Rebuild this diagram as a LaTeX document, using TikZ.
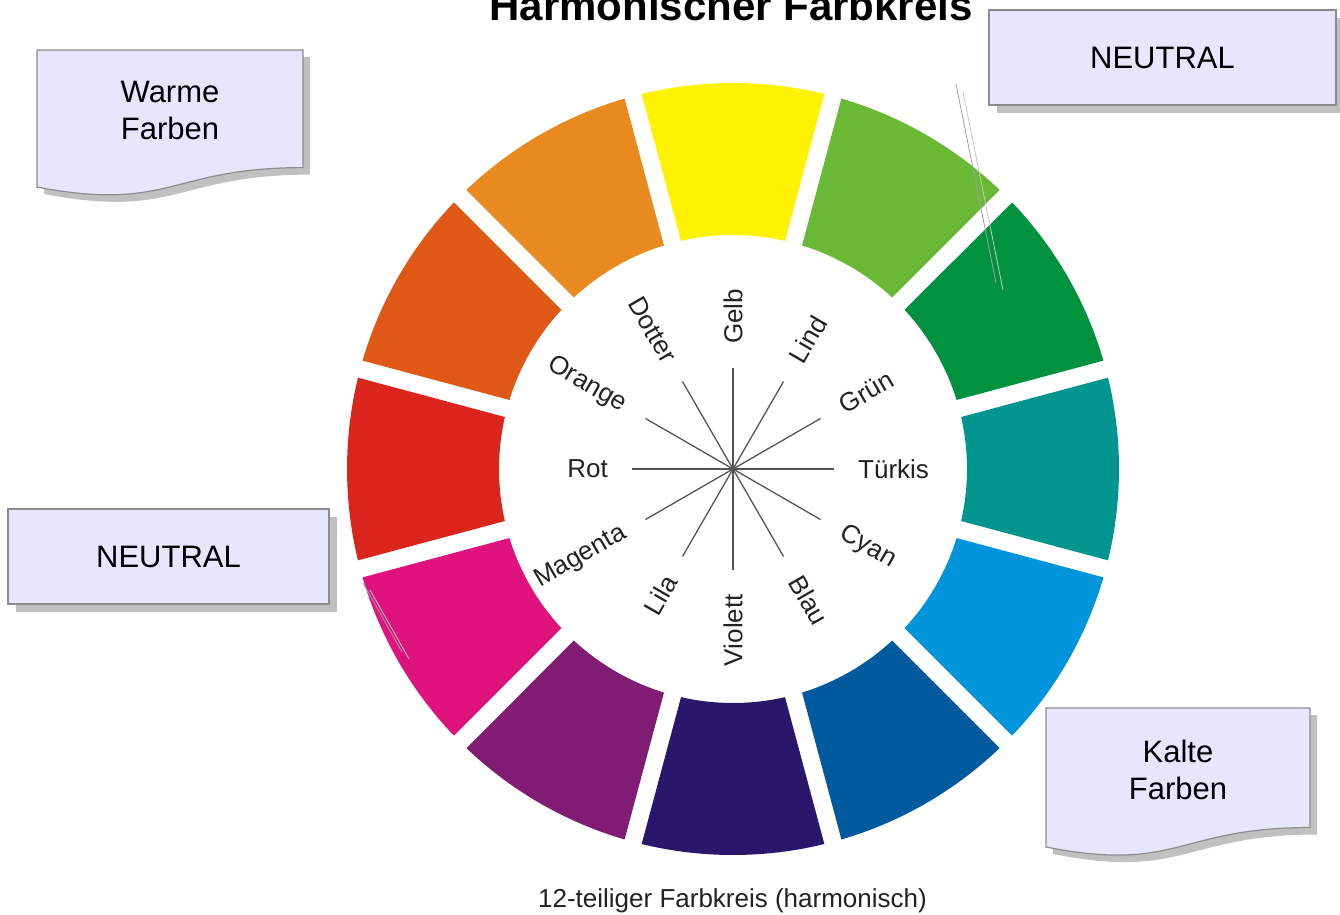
\documentclass[tikz,border=0pt]{standalone}
\usepackage{fontspec}
\setmainfont{Liberation Sans}
\usetikzlibrary{calc}
\definecolor{cGelb}{HTML}{FFF200}
\definecolor{cLind}{HTML}{6AB934}
\definecolor{cGruen}{HTML}{00923F}
\definecolor{cTuerkis}{HTML}{00968F}
\definecolor{cCyan}{HTML}{0095DA}
\definecolor{cBlau}{HTML}{005A9E}
\definecolor{cViolett}{HTML}{29176B}
\definecolor{cLila}{HTML}{801C74}
\definecolor{cMagenta}{HTML}{E0137E}
\definecolor{cRot}{HTML}{DA251D}
\definecolor{cOrange}{HTML}{E05816}
\definecolor{cDotter}{HTML}{E98A1F}
\definecolor{boxfill}{HTML}{E6E6FF}
\definecolor{boxline}{HTML}{8C8C8C}
\definecolor{shadowc}{HTML}{C0C0C0}
\definecolor{spokec}{HTML}{555555}
\definecolor{labelc}{HTML}{222222}
\begin{document}
\begin{tikzpicture}[x=1pt,y=-1pt,
  lbl/.style={text=labelc, inner sep=0pt, font=\fontsize{26}{30}\selectfont},
  spoke/.style={draw=spokec, line width=1.3pt},
  cbox/.style={fill=boxfill, draw=boxline, line width=1.2pt},
  cshadow/.style={fill=shadowc},
  ctext/.style={inner sep=0pt, align=center, font=\fontsize{31}{37}\selectfont},
  pointer/.style={draw=gray!75, line width=0.8pt},
  pointerb/.style={draw=gray!45, line width=0.8pt}]
\useasboundingbox (0,0) rectangle (1340,914);
\clip (0,0) rectangle (1340,914);
\fill[white] (0,0) rectangle (1340,914);

% title (cut off at the top)
\node[anchor=base, inner sep=0pt, font=\fontsize{42}{50}\selectfont\bfseries] (title) at (731,20) {Harmonischer Farbkreis};

% colour wheel
\begin{scope}[shift={(733,469)}]
  \coordinate (hub) at (0,0);
  \foreach \a/\c in {90/cGelb,60/cLind,30/cGruen,0/cTuerkis,-30/cCyan,-60/cBlau,-90/cViolett,-120/cLila,-150/cMagenta,180/cRot,150/cOrange,120/cDotter}{
    \fill[\c] ({-(\a)-15+1.31}:386) arc[start angle={-(\a)-15+1.31}, end angle={-(\a)+15-1.31}, radius=386]
      -- ({-(\a)+15-2.16}:234) arc[start angle={-(\a)+15-2.16}, end angle={-(\a)-15+2.16}, radius=234] -- cycle;
    \draw[spoke] (hub) -- ({-(\a)}:101);
  }
  \fill[spokec] (hub) circle (2.2);
  \foreach \a/\t [count=\i] in {90/Gelb,60/Lind,30/Grün,0/Türkis,-30/Cyan,-60/Blau}{
    \node[lbl, anchor=west, rotate=\a] (labR\i) at ({-(\a)}:125) {\t};
  }
  \foreach \a/\t [count=\i] in {-90/Violett,-120/Lila,-150/Magenta,180/Rot,150/Orange,120/Dotter}{
    \node[lbl, anchor=east, rotate=\a+180] (labL\i) at ({-(\a)}:125) {\t};
  }
\end{scope}

% caption
\node[lbl, anchor=base] (caption) at (732.5,907) {12-teiliger Farbkreis (harmonisch)};

% Warme Farben (document shape)
\begin{scope}[shift={(7,7)}]
  \path[cshadow] (37,50) -- (303,50) -- (303,167.6) .. controls (170,167.6) and (170,212.5) .. (37,187) -- cycle;
\end{scope}
\path[cbox] (37,50) -- (303,50) -- (303,167.6) .. controls (170,167.6) and (170,212.5) .. (37,187) -- cycle;
\node[ctext] (warm) at (170,110.5) {Warme\\Farben};

% Kalte Farben (document shape)
\begin{scope}[shift={(7,7)}]
  \path[cshadow] (1046,708) -- (1310,708) -- (1310,827.5) .. controls (1178,827.5) and (1178,873.1) .. (1046,847) -- cycle;
\end{scope}
\path[cbox] (1046,708) -- (1310,708) -- (1310,827.5) .. controls (1178,827.5) and (1178,873.1) .. (1046,847) -- cycle;
\node[ctext] (cold) at (1178,769.5) {Kalte\\Farben};

% NEUTRAL top right
\fill[shadowc] (997,18) rectangle (1344,113);
\node[cbox, ctext, minimum width=347pt, minimum height=95pt] (neutralA) at (1162.5,57.5) {NEUTRAL};

% NEUTRAL left
\fill[shadowc] (16,517) rectangle (337,612);
\node[cbox, ctext, minimum width=321pt, minimum height=95pt] (neutralB) at (168.5,556.5) {NEUTRAL};

% callout pointers
\coordinate (pA1) at (956,84);  \coordinate (pA2) at (996,283);
\coordinate (pA3) at (963,92);  \coordinate (pA4) at (1003,290);
\draw[pointer] (pA1) -- (pA2);
\draw[pointerb] (pA3) -- (pA4);
\coordinate (pB1) at (363,583); \coordinate (pB2) at (402,652);
\coordinate (pB3) at (370,590); \coordinate (pB4) at (409,659);
\draw[pointer] (pB1) -- (pB2);
\draw[pointerb] (pB3) -- (pB4);
\end{tikzpicture}
\end{document}
